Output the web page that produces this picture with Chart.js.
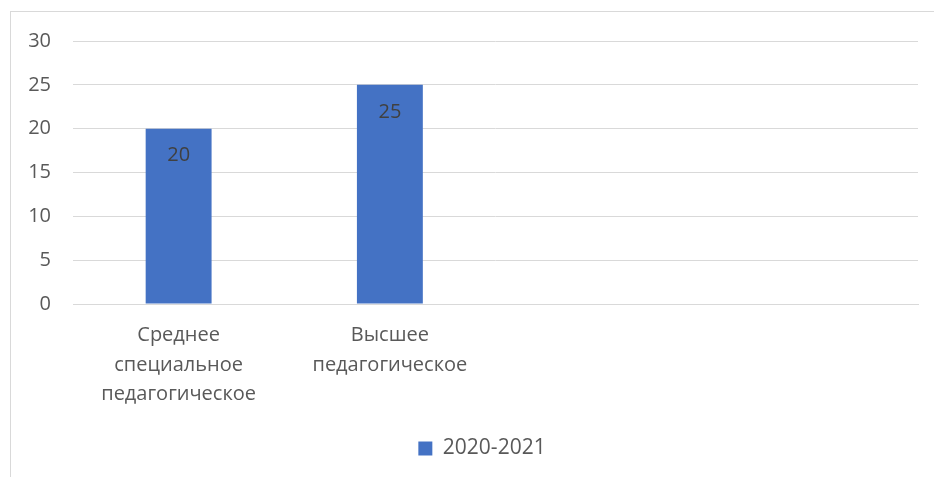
<!DOCTYPE html>
<html>
<head>
<meta charset="utf-8">
<script src="https://cdn.jsdelivr.net/npm/chart.js@4.4.0/dist/chart.umd.min.js"></script>
<style>
  html, body { margin: 0; padding: 0; background: #fff; overflow: hidden; }
  #frame {
    position: absolute; left: 10px; top: 11px; width: 940px; height: 480px;
    border-left: 1px solid #d9d9d9; border-top: 1px solid #d9d9d9;
  }
  #wrap { position: absolute; left: 0; top: 0; width: 934px; height: 477px; }
</style>
</head>
<body>
<div id="frame"></div>
<div id="wrap"><canvas id="chart"></canvas></div>
<script>
// categories (4 slots, only the first two are filled)
const categories = [
    ['Среднее', 'специальное', 'педагогическое'],
    ['Высшее', 'педагогическое'],
    '',
    ''
];
const seriesName = '2020-2021';
const seriesValues = [20, 25, null, null];
const yTicks = [0, 5, 10, 15, 20, 25, 30];

const fontFamily = '"Open Sans", "DejaVu Sans", sans-serif';

// draws the value inside the top end of each bar
const valueLabels = {
    id: 'valueLabels',
    afterDatasetsDraw(chart) {
        const ctx = chart.ctx;
        const meta = chart.getDatasetMeta(0);
        ctx.save();
        ctx.font = '20px ' + fontFamily;
        ctx.fillStyle = '#404040';
        ctx.textAlign = 'center';
        ctx.textBaseline = 'middle';
        meta.data.forEach((bar, i) => {
            const v = seriesValues[i];
            if (v === null) return;
            ctx.fillText(String(v), bar.x, bar.y + 27);
        });
        ctx.restore();
    }
};

// excel centres the legend a bit to the right of the canvas centre
const legendShift = {
    id: 'legendShift',
    afterLayout(chart) {
        if (chart.legend) {
            chart.legend.left += 46;
        }
    }
};

const ctx = document.getElementById('chart').getContext('2d');

new Chart(ctx, {
    type: 'bar',
    data: {
        labels: categories,
        datasets: [{
            label: seriesName,
            data: seriesValues,
            backgroundColor: '#4472c4',
            borderWidth: 0,
            categoryPercentage: 1,
            barPercentage: 0.312
        }]
    },
    options: {
        responsive: true,
        maintainAspectRatio: false,
        animation: false,
        layout: { padding: { top: 41, right: 16, bottom: 8, left: 0 } },
        scales: {
            x: {
                grid: { display: false, drawTicks: false },
                border: { display: true, color: '#d9d9d9' },
                ticks: {
                    color: '#595959',
                    padding: 17,
                    maxRotation: 0,
                    autoSkip: false,
                    font: { family: fontFamily, size: 20, lineHeight: 1.47 }
                },
                afterFit(scale) { scale.height = 124; }
            },
            y: {
                min: 0,
                max: 30,
                afterBuildTicks(scale) { scale.ticks = yTicks.map(v => ({ value: v })); },
                grid: { color: '#d9d9d9', drawTicks: false },
                border: { display: false },
                ticks: {
                    color: '#595959',
                    padding: 22,
                    font: { family: fontFamily, size: 20 }
                },
                afterFit(scale) { scale.width = 73; }
            }
        },
        plugins: {
            legend: {
                position: 'bottom',
                labels: {
                    boxWidth: 14,
                    boxHeight: 14,
                    color: '#595959',
                    font: { family: fontFamily, size: 21 }
                }
            },
            tooltip: { enabled: false }
        }
    },
    plugins: [valueLabels, legendShift]
});
</script>
</body>
</html>
